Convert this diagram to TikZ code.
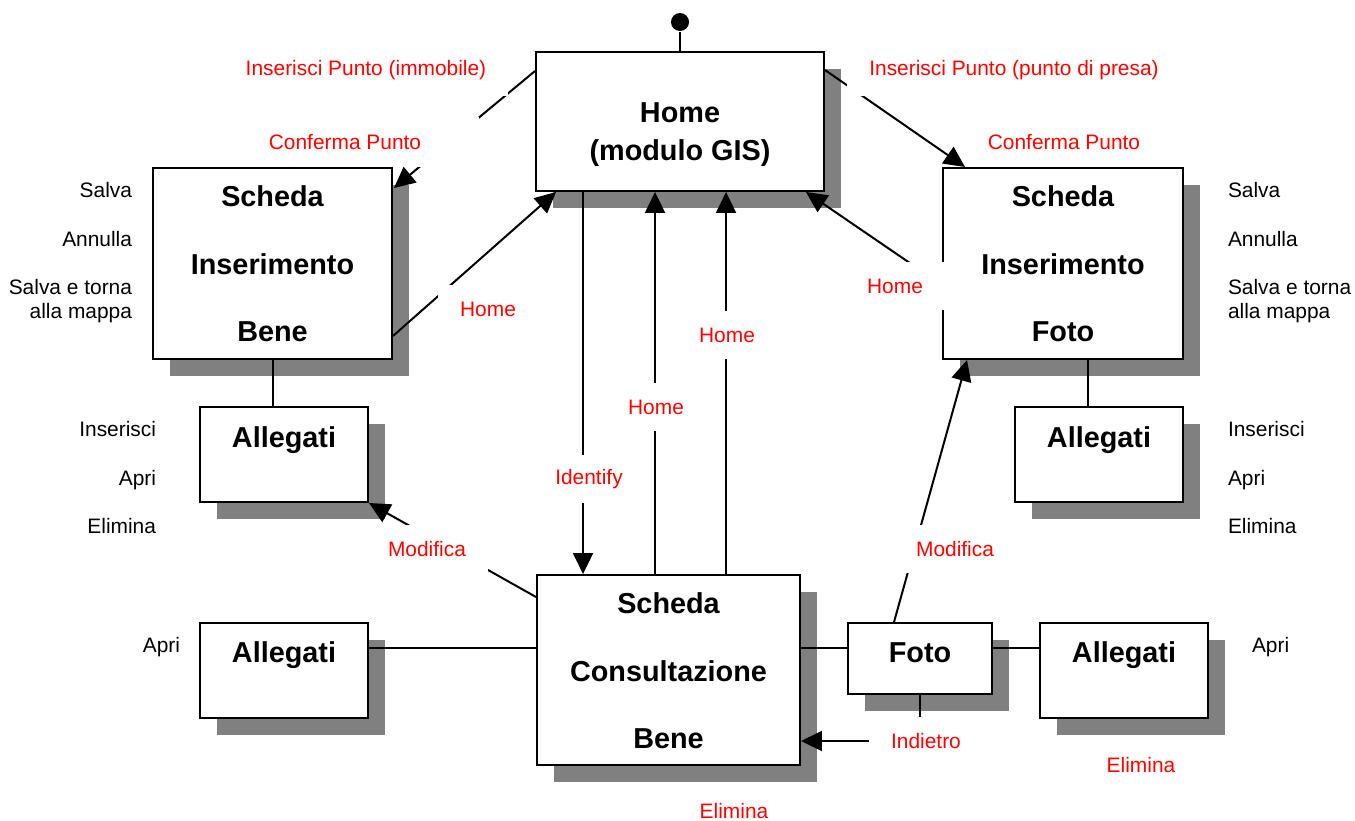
\documentclass[tikz,border=0pt]{standalone}
\usepackage{fontspec}
\setmainfont{Liberation Sans}
\usetikzlibrary{arrows.meta}
\usetikzlibrary{calc}
\usetikzlibrary{shadows}
\definecolor{bRed}{HTML}{FF0000}
\definecolor{bGray}{HTML}{808080}

\begin{document}
\begin{tikzpicture}[x=0.02cm, y=-0.02cm, line width=0.04cm,
  box/.style={draw, fill=white, inner sep=0pt, align=center,
    font=\bfseries\fontsize{16.4}{38.3}\selectfont,
    drop shadow={shadow xshift=0.34cm, shadow yshift=-0.34cm, fill=bGray, opacity=1}},
  act/.style={font=\fontsize{11.9}{13.6}\selectfont, inner sep=0pt},
  lab/.style={font=\fontsize{11.9}{13.6}\selectfont, text=bRed, fill=white,
    inner xsep=0.44cm, minimum height=0.96cm},
  arr/.style={-{Triangle[length=0.42cm,width=0.4cm]}}]
  \useasboundingbox (0,0) rectangle (1355,821);

  % schermate
  \node[box, minimum width=5.76cm, text height=2.168cm, text depth=0.612cm,
    font=\bfseries\fontsize{16.4}{21.5}\selectfont] (home) at (680,121.5) {Home\\(modulo GIS)};
  \node[box, minimum width=4.78cm, text height=3.468cm, text depth=0.352cm] (insbene) at (272.5,263.5) {Scheda\\Inserimento\\Bene};
  \node[box, minimum width=4.8cm, text height=3.468cm, text depth=0.352cm] (insfoto) at (1063,263.5) {Scheda\\Inserimento\\Foto};
  \node[box, minimum width=3.36cm, text height=0.808cm, text depth=1.092cm] (allins1) at (284,454.5) {Allegati};
  \node[box, minimum width=3.36cm, text height=0.808cm, text depth=1.092cm] (allins2) at (1099,454.5) {Allegati};
  \node[box, minimum width=5.26cm, text height=3.468cm, text depth=0.332cm] (consbene) at (668.5,670) {Scheda\\Consultazione\\Bene};
  \node[box, minimum width=3.36cm, text height=0.788cm, text depth=1.112cm] (allcons) at (284,670.5) {Allegati};
  \node[box, minimum width=2.88cm, text height=0.788cm, text depth=0.632cm] (foto) at (920,658.5) {Foto};
  \node[box, minimum width=3.36cm, text height=0.788cm, text depth=1.112cm] (allfoto) at (1124,670.5) {Allegati};

  % azioni
  \node[act, anchor=base east] (salva1) at (133,197.5) {Salva};
  \node[act, anchor=base east] (annulla1) at (133,246.5) {Annulla};
  \node[act, anchor=base east, align=right] (torna1) at (133,318.5) {Salva e torna\\alla mappa};
  \node[act, anchor=base west] (salva2) at (1227,197.5) {Salva};
  \node[act, anchor=base west] (annulla2) at (1227,246.5) {Annulla};
  \node[act, anchor=base west, align=left] (torna2) at (1227,318.5) {Salva e torna\\alla mappa};
  \node[act, anchor=base east] (inserisci1) at (157,436.5) {Inserisci};
  \node[act, anchor=base east] (apri1) at (157,485.5) {Apri};
  \node[act, anchor=base east] (elimina1) at (157,533.5) {Elimina};
  \node[act, anchor=base west] (inserisci2) at (1227,436.5) {Inserisci};
  \node[act, anchor=base west] (apri2) at (1227,485.5) {Apri};
  \node[act, anchor=base west] (elimina2) at (1227,533.5) {Elimina};
  \node[act, anchor=base east] (apri3) at (181,652.5) {Apri};
  \node[act, anchor=base west] (apri4) at (1251,652.5) {Apri};

  % collegamenti
  \node[circle, fill, inner sep=0pt, minimum size=0.36cm] (start) at (680,22) {};
  \draw (start) -- (home);
  \draw[arr] ($(home.north west)+(0,20)$) -- ($(insbene.north east)+(1,21)$);
  \draw[arr] ($(home.north east)+(0,19)$) -- ($(insfoto.north west)+(23,0)$);
  \draw[arr] ($(insbene.south east)+(0,-24)$) -- ($(home.south west)+(21,0)$);
  \draw[arr] ($(insfoto.north west)+(0,118)$) -- ($(home.south east)+(-19,0)$);
  \coordinate (hI) at ($(home.south west)+(48,0)$);
  \draw[arr] (hI) -- (hI |- consbene.north);
  \coordinate (cH1) at ($(consbene.north west)+(119,0)$);
  \coordinate (cH2) at ($(consbene.north west)+(190,0)$);
  \draw[arr] (cH1) -- (cH1 |- home.south);
  \draw[arr] (cH2) -- (cH2 |- home.south);
  \draw[arr] ($(consbene.north west)+(0,23)$) -- (allins1.south east);
  \draw[arr] ($(foto.north west)+(47,0)$) -- ($(insfoto.south west)+(25,0)$);
  \coordinate (ci) at ($(consbene.east)+(0,71)$);
  \draw[arr] (foto.south) |- (ci);
  \coordinate (ac) at ($(allcons.east)+(0,-23)$);
  \draw (ac) -- (ac -| consbene.west);
  \draw (ac -| consbene.east) -- (ac -| foto.west);
  \draw (ac -| foto.east) -- (ac -| allfoto.west);
  \draw (insbene.south) -- (insbene.south |- allins1.north);
  \coordinate (fa) at ($(insfoto.south)+(25,0)$);
  \draw (fa) -- (fa |- allins2.north);

  % etichette
  \node[lab, minimum height=1.06cm] (lpimm) at (366,70) {Inserisci Punto (immobile)};
  \node[lab, minimum height=1.06cm] (lpfoto) at (1014,70) {Inserisci Punto (punto di presa)};
  \node[lab, minimum width=5.36cm, minimum height=1.0cm] (lcbene) at (345,142) {Conferma Punto};
  \node[lab] (lcfoto) at (1064,142) {Conferma Punto};
  \node[lab] (lhome1) at (488,309) {Home};
  \node[lab] (lhome2) at (895,286) {Home};
  \node[lab] (lhome3) at (727,335) {Home};
  \node[lab] (lhome4) at (656,407) {Home};
  \node[lab] (lident) at (589,479) {Identify};
  \node[lab] (lmod1) at (427,549) {Modifica};
  \node[lab] (lmod2) at (955,549) {Modifica};
  \node[lab] (lind) at (926,741) {Indietro};
  \node[lab, minimum height=0pt, inner ysep=1pt] (lel1) at (1141,765) {Elimina};
  \node[lab, minimum height=0pt, inner ysep=1pt] (lel2) at (734,811) {Elimina};
\end{tikzpicture}
\end{document}
